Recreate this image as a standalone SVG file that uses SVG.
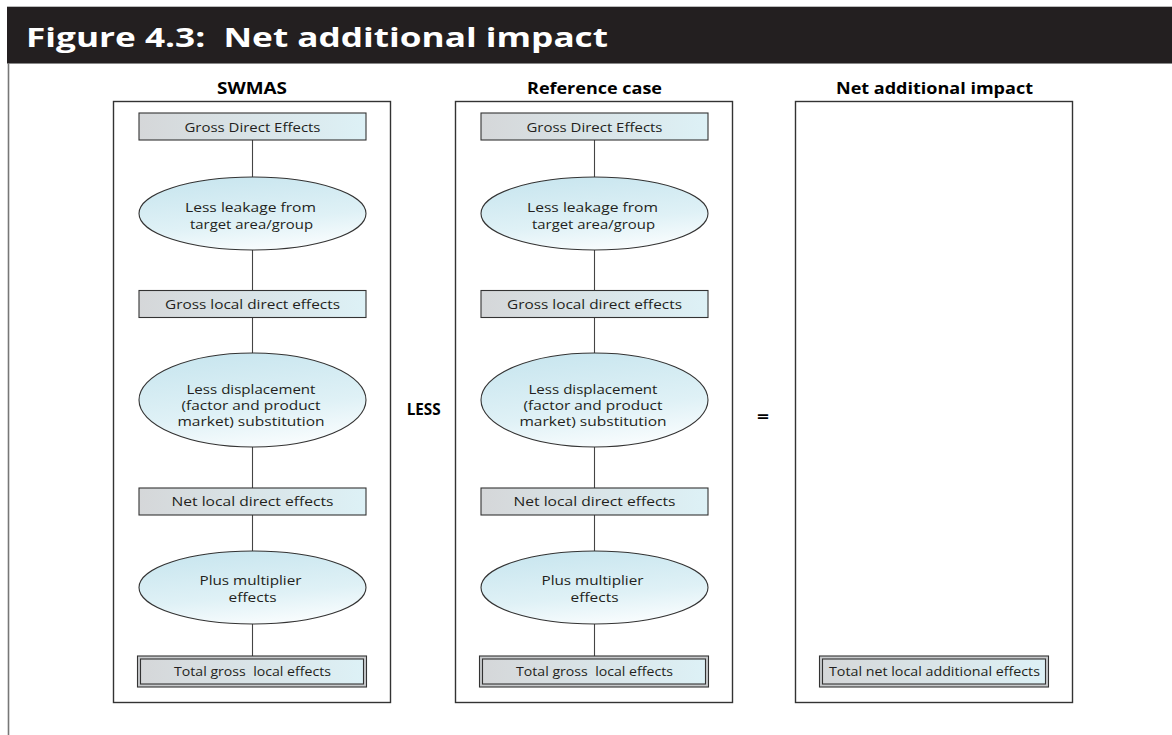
<svg xmlns="http://www.w3.org/2000/svg" width="1172" height="735" viewBox="0 0 1172 735">
  <defs>
    <linearGradient id="rectGrad" x1="0" y1="0" x2="1" y2="0">
      <stop offset="0" stop-color="#d5d7d9"/>
      <stop offset="1" stop-color="#ddf1f6"/>
    </linearGradient>
    <linearGradient id="ellGrad" x1="0.35" y1="0" x2="0.65" y2="1">
      <stop offset="0" stop-color="#c9e6ef"/>
      <stop offset="0.6" stop-color="#dff1f6"/>
      <stop offset="1" stop-color="#fafdfe"/>
    </linearGradient>
    <style>
      .frame { fill: #ffffff; stroke: #333333; stroke-width: 1.4; }
      .box { fill: url(#rectGrad); stroke: #333333; stroke-width: 1.1; }
      .outer { fill: #c8cacc; stroke: #333333; stroke-width: 1.1; }
      .ell { fill: url(#ellGrad); stroke: #333333; stroke-width: 1.1; }
      .conn line { stroke: #444444; stroke-width: 1.1; }
      .t { font-family: "Open Sans", "Liberation Sans", sans-serif; font-size: 13px; fill: #231f20; text-anchor: middle; white-space: pre; }
      .e { font-size: 12.5px; }
      .h { font-family: "Open Sans", "Liberation Sans", sans-serif; font-size: 16px; font-weight: bold; fill: #000000; text-anchor: middle; }
      .title { font-family: "Open Sans", "Liberation Sans", sans-serif; font-size: 27px; font-weight: bold; fill: #ffffff; white-space: pre; }
    </style>
  </defs>

  <rect x="0" y="0" width="1172" height="735" fill="#ffffff"/>

  <!-- header -->
  <g id="header">
    <rect x="7" y="7" width="1165" height="56" fill="#231f20"/>
    <line x1="7" y1="6.5" x2="1172" y2="6.5" stroke="#bbbbbb" stroke-width="1"/>
    <line x1="7" y1="63.5" x2="1172" y2="63.5" stroke="#888888" stroke-width="1"/>
    <text class="title" x="26" y="47" textLength="582" lengthAdjust="spacingAndGlyphs" xml:space="preserve">Figure 4.3:  Net additional impact</text>
  </g>
  <line x1="8.5" y1="63" x2="8.5" y2="735" stroke="#777777" stroke-width="1.6"/>

  <!-- column frames and headings -->
  <g id="col-swmas">
    <text class="h" x="252" y="94" textLength="70" lengthAdjust="spacingAndGlyphs">SWMAS</text>
    <rect class="frame" x="113.5" y="101.5" width="277" height="601"/>
  </g>
  <g id="col-reference">
    <text class="h" x="594.5" y="93.5" textLength="135" lengthAdjust="spacingAndGlyphs">Reference case</text>
    <rect class="frame" x="455.5" y="101.5" width="277" height="601"/>
  </g>
  <g id="col-net">
    <text class="h" x="934.5" y="93.5" textLength="197" lengthAdjust="spacingAndGlyphs">Net additional impact</text>
    <rect class="frame" x="795.5" y="101.5" width="277" height="601"/>
  </g>

  <!-- connectors -->
  <g id="connectors" class="conn">
    <line x1="252.5" y1="140" x2="252.5" y2="177"/>
    <line x1="252.5" y1="250" x2="252.5" y2="290.5"/>
    <line x1="252.5" y1="317.5" x2="252.5" y2="353"/>
    <line x1="252.5" y1="447" x2="252.5" y2="488"/>
    <line x1="252.5" y1="515" x2="252.5" y2="551"/>
    <line x1="252.5" y1="624" x2="252.5" y2="656"/>
    <line x1="594.5" y1="140" x2="594.5" y2="177"/>
    <line x1="594.5" y1="250" x2="594.5" y2="290.5"/>
    <line x1="594.5" y1="317.5" x2="594.5" y2="353"/>
    <line x1="594.5" y1="447" x2="594.5" y2="488"/>
    <line x1="594.5" y1="515" x2="594.5" y2="551"/>
    <line x1="594.5" y1="624" x2="594.5" y2="656"/>
  </g>

  <!-- SWMAS column nodes -->
  <g id="s-gross-direct">
    <rect class="box" x="139" y="113" width="227" height="27"/>
    <text class="t" x="252.5" y="132" textLength="136" lengthAdjust="spacingAndGlyphs">Gross Direct Effects</text>
  </g>
  <g id="s-leakage">
    <ellipse class="ell" cx="252.5" cy="213.5" rx="113.5" ry="36.5"/>
    <text class="t e" x="250.5" y="212" textLength="131" lengthAdjust="spacingAndGlyphs">Less leakage from</text>
    <text class="t e" x="251.5" y="228.5" textLength="123" lengthAdjust="spacingAndGlyphs">target area/group</text>
  </g>
  <g id="s-gross-local">
    <rect class="box" x="139" y="290.5" width="227" height="27"/>
    <text class="t" x="252.5" y="309" textLength="175" lengthAdjust="spacingAndGlyphs">Gross local direct effects</text>
  </g>
  <g id="s-displacement">
    <ellipse class="ell" cx="252.5" cy="400" rx="113.5" ry="47"/>
    <text class="t e" x="251" y="394" textLength="129" lengthAdjust="spacingAndGlyphs">Less displacement</text>
    <text class="t e" x="251" y="410" textLength="139" lengthAdjust="spacingAndGlyphs">(factor and product</text>
    <text class="t e" x="251" y="426" textLength="147" lengthAdjust="spacingAndGlyphs">market) substitution</text>
  </g>
  <g id="s-net-local">
    <rect class="box" x="139" y="488" width="227" height="27"/>
    <text class="t" x="252.5" y="506" textLength="162" lengthAdjust="spacingAndGlyphs">Net local direct effects</text>
  </g>
  <g id="s-multiplier">
    <ellipse class="ell" cx="252.5" cy="587.5" rx="113.5" ry="36.5"/>
    <text class="t e" x="250.5" y="585" textLength="102" lengthAdjust="spacingAndGlyphs">Plus multiplier</text>
    <text class="t e" x="252.5" y="601.5" textLength="48" lengthAdjust="spacingAndGlyphs">effects</text>
  </g>
  <g id="s-total">
    <rect class="outer" x="137.5" y="656" width="229" height="31"/>
    <rect class="box" x="140.5" y="659" width="223" height="25"/>
    <text class="t" x="252.5" y="676" textLength="157" lengthAdjust="spacingAndGlyphs" xml:space="preserve">Total gross  local effects</text>
  </g>

  <!-- Reference case column nodes -->
  <g id="r-gross-direct">
    <rect class="box" x="481" y="113" width="227" height="27"/>
    <text class="t" x="594.5" y="132" textLength="136" lengthAdjust="spacingAndGlyphs">Gross Direct Effects</text>
  </g>
  <g id="r-leakage">
    <ellipse class="ell" cx="594.5" cy="213.5" rx="113.5" ry="36.5"/>
    <text class="t e" x="592.5" y="212" textLength="131" lengthAdjust="spacingAndGlyphs">Less leakage from</text>
    <text class="t e" x="593.5" y="228.5" textLength="123" lengthAdjust="spacingAndGlyphs">target area/group</text>
  </g>
  <g id="r-gross-local">
    <rect class="box" x="481" y="290.5" width="227" height="27"/>
    <text class="t" x="594.5" y="309" textLength="175" lengthAdjust="spacingAndGlyphs">Gross local direct effects</text>
  </g>
  <g id="r-displacement">
    <ellipse class="ell" cx="594.5" cy="400" rx="113.5" ry="47"/>
    <text class="t e" x="593" y="394" textLength="129" lengthAdjust="spacingAndGlyphs">Less displacement</text>
    <text class="t e" x="593" y="410" textLength="139" lengthAdjust="spacingAndGlyphs">(factor and product</text>
    <text class="t e" x="593" y="426" textLength="147" lengthAdjust="spacingAndGlyphs">market) substitution</text>
  </g>
  <g id="r-net-local">
    <rect class="box" x="481" y="488" width="227" height="27"/>
    <text class="t" x="594.5" y="506" textLength="162" lengthAdjust="spacingAndGlyphs">Net local direct effects</text>
  </g>
  <g id="r-multiplier">
    <ellipse class="ell" cx="594.5" cy="587.5" rx="113.5" ry="36.5"/>
    <text class="t e" x="592.5" y="585" textLength="102" lengthAdjust="spacingAndGlyphs">Plus multiplier</text>
    <text class="t e" x="594.5" y="601.5" textLength="48" lengthAdjust="spacingAndGlyphs">effects</text>
  </g>
  <g id="r-total">
    <rect class="outer" x="479.5" y="656" width="229" height="31"/>
    <rect class="box" x="482.5" y="659" width="223" height="25"/>
    <text class="t" x="594.5" y="676" textLength="157" lengthAdjust="spacingAndGlyphs" xml:space="preserve">Total gross  local effects</text>
  </g>

  <!-- Net additional impact node -->
  <g id="n-total">
    <rect class="outer" x="819.5" y="656" width="229" height="31"/>
    <rect class="box" x="822.5" y="659" width="223" height="25"/>
    <text class="t" x="934.5" y="676" textLength="211" lengthAdjust="spacingAndGlyphs">Total net local additional effects</text>
  </g>

  <!-- operators -->
  <g id="op-less">
    <text class="h" x="423.7" y="414.5" textLength="34" lengthAdjust="spacingAndGlyphs">LESS</text>
  </g>
  <g id="op-equals">
    <text class="h" x="763" y="422" font-size="18" textLength="12" lengthAdjust="spacingAndGlyphs">=</text>
  </g>
</svg>
